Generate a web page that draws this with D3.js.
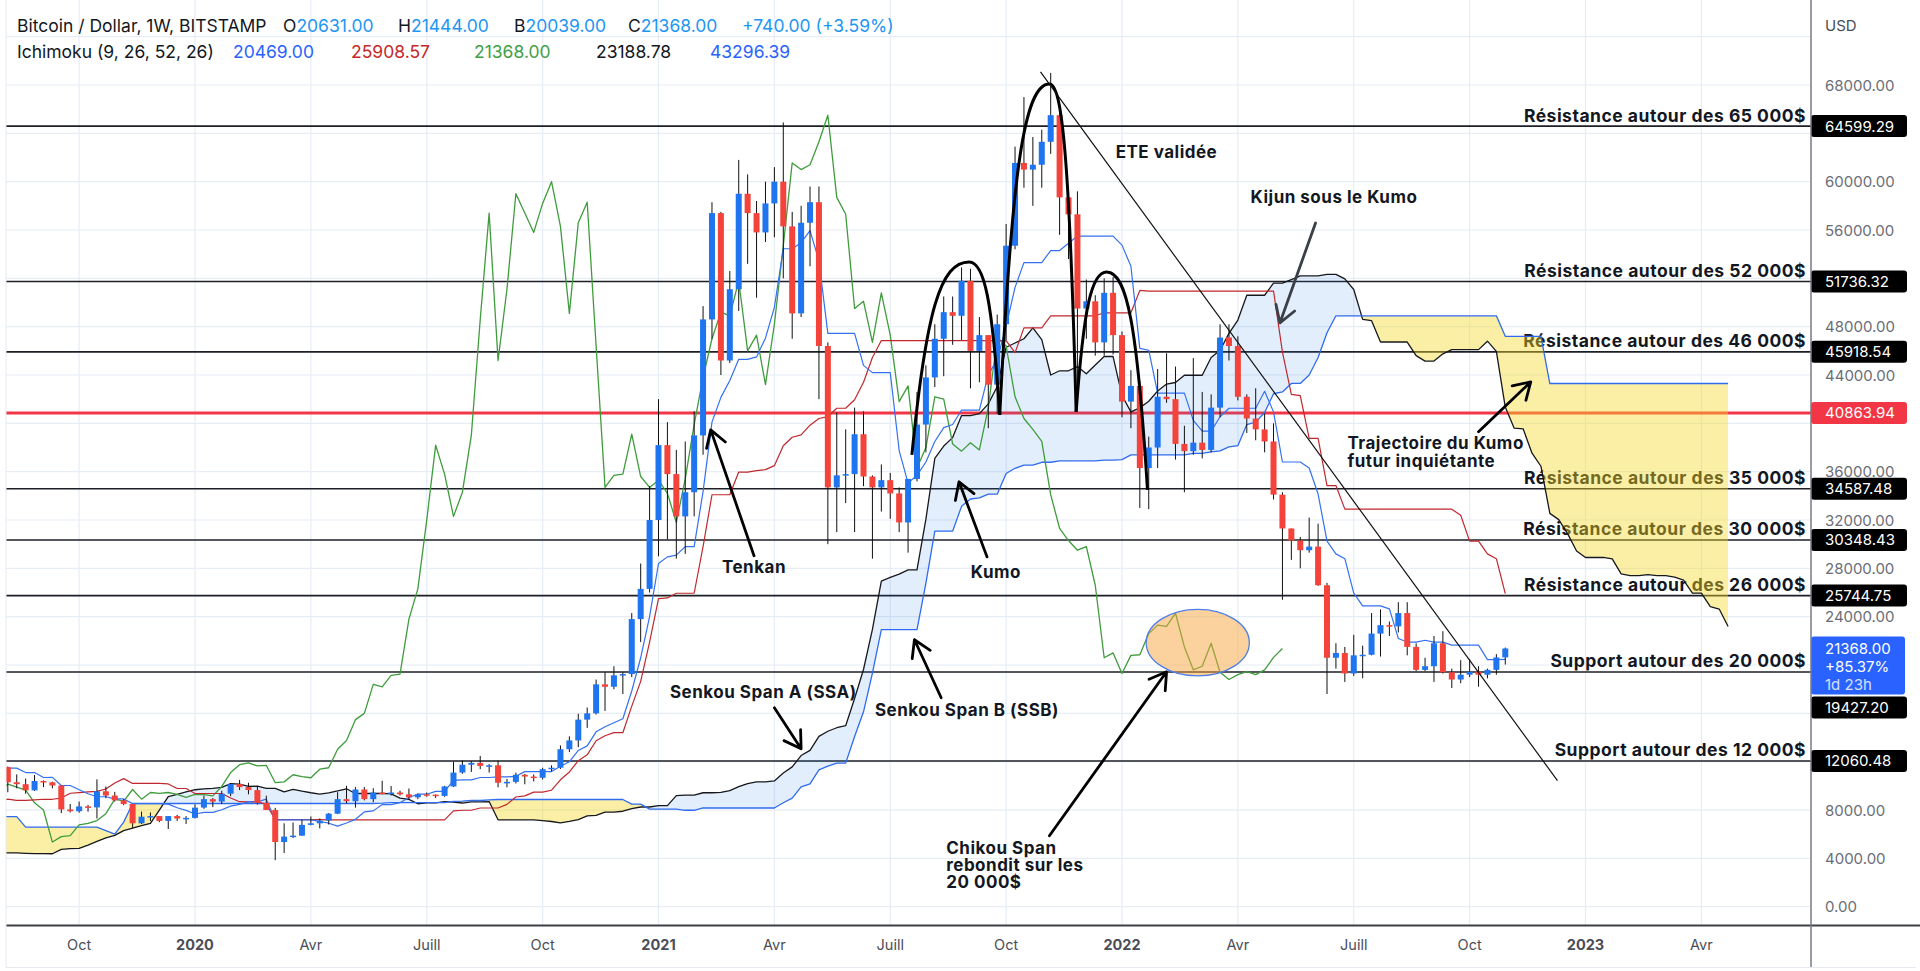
<!DOCTYPE html>
<html>
<head>
<meta charset="utf-8">
<script src="https://cdn.jsdelivr.net/npm/d3@7"></script>
<style>
  body { margin: 0; background: #fff; }
  svg { display: block; }
  text { font-family: Inter, "Noto Sans", sans-serif; }
</style>
</head>
<body>
<svg id="chart" width="1920" height="971"></svg>
<script>
'use strict';

// weekly bars, BTC/USD Bitstamp, first bar = week of 2019-08-05
var firstWeek = '2019-08-05';

var opens = [
  10800, 11550, 10300, 10140, 9630, 10400, 10300, 10030, 8050, 7900,
  8300, 8220, 9550, 9200, 8800, 8500, 6900, 7450, 7500, 7100,
  7500, 7300, 7350, 8200, 8900, 8700, 9350, 10150, 9900, 9650,
  8600, 8000, 5350, 5800, 5880, 6770, 6900, 7130, 7700, 8900,
  8730, 9700, 8900, 9450, 9380, 9450, 9300, 9050, 9300, 9270,
  9170, 9950, 11100, 11750, 11900, 11650, 11700, 10260, 10330, 10920,
  10770, 10670, 11380, 11500, 13030, 13760, 15480, 16000, 18400, 18200,
  19150, 19250, 23800, 26300, 32000, 38200, 35800, 32300, 34300, 39000,
  48600, 57400, 45200, 51100, 59000, 57400, 55800, 58200, 60000, 56300,
  49100, 56600, 58300, 46400, 34700, 35700, 35800, 39100, 35600, 34700,
  35300, 34200, 31800, 35400, 39900, 43800, 47000, 49200, 48900, 51800,
  46000, 47300, 43200, 48200, 54700, 61550, 61000, 61400, 63300, 65500,
  58700, 57300, 49500, 50100, 46700, 50800, 47300, 41800, 43100, 36300,
  38000, 42200, 42000, 38300, 37700, 38400, 37800, 41300, 47100, 46400,
  42200, 40400, 39500, 38500, 34100, 31300, 30300, 29500, 29800, 26600,
  20600, 21000, 19300, 20800, 20850, 22600, 23300, 23200, 24300, 21500,
  19600, 19900, 21800, 19400, 18800, 19200, 19450, 19200, 19600, 20631
];
var highs = [
  12300, 11600, 10950, 10600, 10900, 10450, 10350, 10050, 8500, 8700,
  8420, 10540, 9950, 9500, 8900, 8500, 7870, 7800, 7500, 7500,
  7600, 7500, 8470, 9190, 8990, 9600, 10200, 10500, 10250, 9970,
  9190, 8180, 6900, 6970, 7200, 7470, 7300, 7750, 9480, 10000,
  9900, 9900, 9800, 10420, 9990, 9600, 9780, 9370, 9450, 9300,
  10000, 12000, 12100, 12050, 12480, 11800, 12090, 10580, 11100, 10990,
  10950, 11500, 11700, 13350, 14100, 15970, 16480, 18800, 19400, 19900,
  19400, 24300, 28400, 34800, 42000, 40100, 37800, 38500, 41000, 49700,
  58300, 57500, 52600, 61800, 60600, 58400, 60000, 61200, 64900, 57500,
  58000, 59600, 59600, 46700, 40900, 39500, 41300, 41000, 35700, 36600,
  35900, 34700, 35400, 42600, 44800, 48200, 50500, 50500, 52900, 52800,
  48800, 47300, 49000, 56500, 62900, 67000, 63700, 64300, 69000, 66400,
  59400, 59200, 51900, 50600, 52000, 52100, 47600, 44400, 43500, 38900,
  44500, 45800, 44700, 39800, 45400, 42600, 42400, 48200, 48200, 47200,
  42400, 42900, 40800, 40000, 34300, 31300, 30600, 32200, 31700, 26800,
  21800, 21500, 22500, 21600, 24300, 24600, 23600, 25200, 25200, 21800,
  20600, 22400, 22800, 19700, 20400, 20500, 19900, 19700, 20900, 21444
];
var lows = [
  10990, 9470, 9800, 9350, 9580, 9900, 9800, 7750, 7800, 7780,
  7870, 7300, 8980, 8700, 8400, 6520, 6850, 7090, 7000, 6430,
  7100, 6850, 7300, 8100, 8240, 8500, 9150, 9650, 9300, 8450,
  8000, 3850, 4450, 5680, 5860, 6740, 6480, 6800, 7660, 8550,
  8200, 8800, 8650, 9300, 9200, 9200, 8900, 8900, 9100, 9000,
  9100, 9900, 11000, 11150, 11380, 11100, 9880, 9880, 10200, 10130,
  10370, 10530, 11200, 11400, 12800, 13200, 14800, 15900, 16200, 18000,
  17600, 19000, 21900, 26000, 29000, 30400, 28800, 29200, 32300, 37400,
  47000, 44000, 45000, 49300, 53200, 50400, 55000, 55400, 52000, 47000,
  48800, 53000, 42000, 30000, 31000, 33400, 31000, 34800, 28800, 32700,
  32100, 31000, 29300, 35200, 37600, 43000, 43900, 46500, 46900, 42900,
  43400, 39600, 40800, 46900, 54400, 59500, 58000, 59500, 62300, 55600,
  53600, 42000, 47000, 45600, 45600, 45700, 40500, 39600, 33000, 32900,
  36300, 41700, 37000, 34300, 37400, 37100, 37600, 40500, 45200, 41900,
  39200, 38600, 37600, 33700, 25400, 28700, 28000, 29300, 26550, 17600,
  19700, 18600, 19100, 18900, 20800, 20700, 22400, 22700, 20800, 19500,
  19500, 18600, 19300, 18100, 18500, 19000, 18200, 18900, 19200, 20039
];
var closes = [
  11550, 10300, 10140, 9630, 10400, 10300, 10030, 8050, 7900, 8300,
  8220, 9550, 9200, 8800, 8500, 6900, 7450, 7500, 7100, 7500,
  7300, 7350, 8200, 8900, 8700, 9350, 10150, 9900, 9650, 8600,
  8000, 5350, 5800, 5880, 6770, 6900, 7130, 7700, 8900, 8730,
  9700, 8900, 9450, 9380, 9450, 9300, 9050, 9300, 9270, 9170,
  9950, 11100, 11750, 11900, 11650, 11700, 10260, 10330, 10920, 10770,
  10670, 11380, 11500, 13030, 13760, 15480, 16000, 18400, 18200, 19150,
  19250, 23800, 26300, 32000, 38200, 35800, 32300, 34300, 39000, 48600,
  57400, 45200, 51100, 59000, 57400, 55800, 58200, 60000, 56300, 49100,
  56600, 58300, 46400, 34700, 35700, 35800, 39100, 35600, 34700, 35300,
  34200, 31800, 35400, 39900, 43800, 47000, 49200, 48900, 51800, 46000,
  47300, 43200, 48200, 54700, 61550, 61000, 61400, 63300, 65500, 58700,
  57300, 49500, 50100, 46700, 50800, 47300, 41800, 43100, 36300, 38000,
  42200, 42000, 38300, 37700, 38400, 37800, 41300, 47100, 46400, 42200,
  40400, 39500, 38500, 34100, 31300, 30300, 29500, 29800, 26600, 20600,
  21000, 19300, 20800, 20850, 22600, 23300, 23200, 24300, 21500, 19600,
  19900, 21800, 19400, 18800, 19200, 19450, 19200, 19600, 20631, 21368
];

// Ichimoku (9, 26, 52, 26), one per weekly bar
var tenkan = [
  11000, 11470, 11470, 11100, 11100, 10690, 10700, 10030, 10030, 9680,
  9350, 9100, 9100, 8920, 8920, 8530, 8530, 8530, 8530, 8490,
  8190, 7970, 7670, 7810, 7810, 8020, 8320, 8470, 8680, 8680,
  8900, 7180, 7180, 7180, 7180, 7180, 7050, 6910, 6670, 6930,
  7230, 7840, 7930, 8450, 8450, 8610, 9040, 9310, 9310, 9540,
  9540, 10450, 10500, 10500, 10690, 10690, 10740, 10740, 10790, 11180,
  11180, 11180, 11180, 11620, 11990, 12930, 13310, 14470, 14890, 15220,
  15550, 17850, 20600, 24000, 28400, 28950, 29100, 29800, 29800, 34350,
  40100, 42150, 43550, 45300, 45300, 45500, 47050, 49600, 54450, 54450,
  54950, 55950, 53450, 47450, 47450, 47450, 47450, 44800, 44200, 44200,
  44200, 37750, 35050, 35700, 36800, 38500, 39650, 39900, 41100, 41100,
  41100, 44050, 45250, 48050, 51250, 53300, 53300, 53300, 54300, 54300,
  54900, 55500, 55500, 55500, 55500, 55500, 54750, 53000, 46200, 46050,
  42500, 42500, 42500, 42500, 40250, 39350, 39350, 40550, 41250, 41250,
  41250, 41250, 42650, 40950, 36800, 36800, 36800, 36300, 34150, 30250,
  29200, 28800, 25950, 24900, 24900, 24900, 24650, 22200, 21900, 21900,
  22050, 21900, 21900, 21650, 21650, 21650, 21650, 20450, 20450, 20469
];
var kijun = [
  8740, 8900, 8800, 8800, 8840, 8890, 8890, 8990, 9390, 9440,
  9500, 9540, 9740, 10240, 10600, 10200, 10200, 10200, 10200, 10160,
  9780, 9780, 9370, 9370, 9370, 9370, 9000, 8690, 8670, 8670,
  8490, 7200, 7200, 7200, 7200, 7200, 7200, 7180, 7180, 7180,
  7180, 7180, 7180, 7180, 7180, 7180, 7180, 7180, 7180, 7180,
  7180, 7930, 7980, 7980, 8170, 8170, 8170, 8470, 9080, 9170,
  9480, 9480, 9640, 10500, 11150, 12080, 12570, 13730, 14150, 14400,
  14400, 16600, 18650, 21900, 25500, 25550, 25940, 25940, 25940, 29790,
  34090, 34090, 34090, 35970, 35970, 36090, 36170, 36500, 38150, 38850,
  39050, 39850, 40400, 40550, 41250, 41250, 41950, 43400, 45450, 46850,
  46850, 46850, 46850, 46850, 46850, 46850, 46850, 46850, 46850, 46850,
  46850, 46850, 46850, 46850, 45850, 47900, 47900, 47900, 48900, 48900,
  48900, 48900, 48900, 48900, 49150, 49150, 49150, 49150, 51000, 50950,
  50950, 50950, 50950, 50950, 50950, 50950, 50950, 50950, 50950, 50950,
  50950, 50950, 50950, 50950, 45900, 42400, 42300, 38750, 38750, 34850,
  34850, 32900, 32900, 32900, 32900, 32900, 32900, 32900, 32900, 32900,
  32900, 32900, 32900, 32900, 32400, 30250, 30250, 29200, 28800, 25909
];
// leading spans, already displaced: index 0 = first bar, last index = 25 weeks after the last bar
var senkouA = [
  4500, 4450, 4450, 4420, 4400, 4400, 4380, 4750, 4800, 4820,
  5100, 5400, 5700, 5900, 6300, 6500, 6700, 6900, 8000, 9100,
  9300, 9500, 9680, 9750, 9800,
  9870, 10190, 10140, 9950, 9970, 9790, 9800, 9510, 9710, 9560,
  9430, 9320, 9420, 9580, 9760, 9370, 9370, 9370, 9370, 9330,
  8990, 8880, 8520, 8590, 8590, 8700, 8660, 8580, 8680, 8680,
  8700, 7190, 7190, 7190, 7190, 7190, 7130, 7050, 6930, 7060,
  7210, 7510, 7560, 7820, 7820, 7900, 8110, 8250, 8250, 8360,
  8360, 9190, 9240, 9240, 9430, 9430, 9460, 9610, 9940, 10180,
  10330, 10330, 10410, 11060, 11570, 12510, 12940, 14100, 14520, 14810,
  14980, 17230, 19630, 22950, 26950, 27250, 27520, 27870, 27870, 32070,
  37100, 38120, 38820, 40640, 40640, 40800, 41610, 43050, 46300, 46650,
  47000, 47900, 46930, 44000, 44350, 44350, 44700, 44100, 44830, 45530,
  45530, 42300, 40950, 41280, 41830, 42680, 43250, 43380, 43980, 43980,
  43980, 45450, 46050, 47450, 48550, 50600, 50600, 50600, 51600, 51600,
  51900, 52200, 52200, 52200, 52330, 52330, 51950, 51080, 48600, 48500,
  46730, 46730, 46730, 46730, 45600, 45150, 45150, 45750, 46100, 46100,
  46100, 46100, 46800, 45950, 41350, 39600, 39550, 37530, 36450, 32550,
  32030, 30850, 29430, 28900, 28900, 28900, 28780, 27550, 27400, 27400,
  27480, 27400, 27400, 27280, 27030, 25950, 25950, 24830, 24630, 23189
];
var senkouB = [
  7450, 7450, 7450, 6580, 6580, 6580, 6580, 6580, 6580, 6580,
  6580, 6580, 6300, 6000, 7000, 8540, 8540, 8540, 8540, 8540,
  8540, 8540, 8540, 8540, 8540, 8540, 8540, 8540, 8540, 8540,
  8540, 8540, 8540, 8540, 8540, 8540, 8540, 8540, 8540, 8540,
  8540, 8540, 8540, 8570, 8620, 8620, 8620, 8620, 8620, 8620,
  8620, 8720, 8740, 8790, 8790, 8840, 8870, 8870, 8870, 8870,
  8870, 8870, 8870, 8870, 8870, 8870, 8870, 8870, 8870, 8870,
  8870, 8490, 8490, 8080, 8080, 8080, 8080, 7980, 7980, 8170,
  8170, 8170, 8170, 8170, 8170, 8170, 8170, 8170, 8600, 8980,
  9910, 10170, 11330, 11630, 11880, 11880, 14080, 16130, 19330, 22930,
  22930, 22930, 22930, 22930, 26780, 31080, 31080, 31080, 33130, 33740,
  33830, 34140, 34140, 35850, 36280, 36550, 36550, 36780, 36780, 36900,
  36900, 36900, 36900, 36900, 36950, 36950, 37000, 37390, 37390, 37390,
  37390, 37390, 37390, 37390, 37520, 37520, 37640, 37720, 38050, 38150,
  39900, 40100, 40900, 42450, 42600, 43300, 43300, 44000, 45450, 47500,
  48900, 48900, 48900, 48900, 48900, 48900, 48900, 48900, 48900, 48900,
  48900, 48900, 48900, 48900, 48900, 48900, 48900, 48900, 48900, 47200,
  47200, 47200, 47200, 47200, 43296, 43296, 43296, 43296, 43296, 43296,
  43296, 43296, 43296, 43296, 43296, 43296, 43296, 43296, 43296, 43296,
  43296, 43296, 43296, 43296, 43296
];
var chikouShift = 25;

// axes
var priceTicks = [0, 4000, 8000, 12000, 16000, 20000, 24000, 28000, 32000, 36000,
  40000, 44000, 48000, 52000, 56000, 60000, 64000, 68000];
var timeTickDates = ['2019-10-07', '2020-01-06', '2020-04-06', '2020-07-06', '2020-10-05',
  '2021-01-04', '2021-04-05', '2021-07-05', '2021-10-04', '2022-01-03', '2022-04-04',
  '2022-07-04', '2022-10-03', '2023-01-02', '2023-04-03'];
var timeTickLabels = ['Oct', '2020', 'Avr', 'Juill', 'Oct', '2021', 'Avr', 'Juill', 'Oct',
  '2022', 'Avr', 'Juill', 'Oct', '2023', 'Avr'];

// horizontal levels drawn on the chart
var levelPrices = [64599.29, 51736.32, 45918.54, 34587.48, 30348.43, 25744.75, 19427.20, 12060.48];
var levelNotes = ['Résistance autour des 65 000$', 'Résistance autour des 52 000$',
  'Résistance autour des 46 000$', 'Résistance autour des 35 000$', 'Résistance autour des 30 000$',
  'Résistance autour des 26 000$', 'Support autour des 20 000$', 'Support autour des 12 000$'];
var redLevel = 40863.94;
var lastPrice = 21368.00;
var lastInfo = ['21368.00', '+85.37%', '1d 23h'];

// drawings
var notes = [
  { text: 'ETE validée', date: '2021-12-29', price: 62460, anchor: 'start' },
  { text: 'Kijun sous le Kumo', date: '2022-04-14', price: 58740, anchor: 'start' },
  { text: 'Trajectoire du Kumo', date: '2022-06-29', price: 38385, anchor: 'start' },
  { text: 'futur inquiétante', date: '2022-06-29', price: 36900, anchor: 'start' },
  { text: 'Tenkan', date: '2021-03-20', price: 28130, anchor: 'middle' },
  { text: 'Kumo', date: '2021-09-26', price: 27710, anchor: 'middle' },
  { text: 'Senkou Span A (SSA)', date: '2021-01-13', price: 17790, anchor: 'start' },
  { text: 'Senkou Span B (SSB)', date: '2021-06-23', price: 16300, anchor: 'start' },
  { text: 'Chikou Span', date: '2021-08-18', price: 4880, anchor: 'start' },
  { text: 'rebondit sur les', date: '2021-08-18', price: 3470, anchor: 'start' },
  { text: '20 000$', date: '2021-08-18', price: 2070, anchor: 'start' }
];
var arrows = [
  ['2021-03-20', 29040, '2021-02-14', 39460, '#000'],
  ['2021-09-19', 28950, '2021-08-28', 35160, '#000'],
  ['2021-08-14', 17290, '2021-07-24', 22090, '#000'],
  ['2021-04-05', 16460, '2021-04-26', 13070, '#000'],
  ['2021-11-07', 5870, '2022-02-07', 19440, '#000'],
  ['2022-06-04', 56580, '2022-05-07', 48310, '#3b3f48'],
  ['2022-10-10', 39300, '2022-11-20', 43430, '#000']
];
var humps = [
  [['2021-07-22', 37390], ['2021-09-05', 53360], ['2021-09-29', 40700]],
  [['2021-09-29', 40700], ['2021-11-07', 68080], ['2021-11-28', 40950]],
  [['2021-11-28', 40950], ['2021-12-22', 52530], ['2022-01-23', 34500]]
];
var trendLine = [['2021-10-31', 69080], ['2022-12-11', 10430]];
var circle = { from: '2022-01-22', to: '2022-04-13', low: 19100, high: 24600 };

var upColor = '#1f74f0', downColor = '#f4433a';

var svg = d3.select('#chart');
var parse = d3.utcParse('%Y-%m-%d');
var week0 = parse(firstWeek);
var weekDate = function (i) { return d3.utcWeek.offset(week0, i); };

var plotLeft = 6, plotRight = 1811, plotTop = 0, plotBottom = 925;

var x = d3.scaleUtc()
  .domain([parse('2020-01-06'), parse('2022-01-03')])
  .range([195, 1122]);
var y = d3.scaleLinear().domain([0, 68000]).range([906.7, 85]);

svg.append('rect').attr('width', 1920).attr('height', 971).attr('fill', '#fff');

var defs = svg.append('defs');
defs.append('clipPath').attr('id', 'plot').append('rect')
  .attr('x', plotLeft).attr('y', plotTop).attr('width', plotRight - plotLeft).attr('height', plotBottom - plotTop);

var plot = svg.append('g').attr('clip-path', 'url(#plot)');

// grid
plot.append('g').selectAll('line').data(timeTickDates).enter().append('line')
  .attr('x1', function (d) { return x(parse(d)); }).attr('x2', function (d) { return x(parse(d)); })
  .attr('y1', plotTop).attr('y2', plotBottom).attr('stroke', '#e6edf6').attr('stroke-width', 1.2);
plot.append('g').selectAll('line').data(priceTicks.concat([72000])).enter().append('line')
  .attr('x1', plotLeft).attr('x2', plotRight)
  .attr('y1', function (d) { return y(d); }).attr('y2', function (d) { return y(d); })
  .attr('stroke', '#e6edf6').attr('stroke-width', 1.2);

// level lines and their notes
plot.append('g').selectAll('line').data(levelPrices).enter().append('line')
  .attr('x1', plotLeft).attr('x2', plotRight)
  .attr('y1', function (d) { return y(d); }).attr('y2', function (d) { return y(d); })
  .attr('stroke', '#1c1f26').attr('stroke-width', 1.6);
plot.append('line').attr('x1', plotLeft).attr('x2', plotRight)
  .attr('y1', y(redLevel)).attr('y2', y(redLevel))
  .attr('stroke', '#f23645').attr('stroke-width', 3);
plot.append('g').selectAll('text').data(levelPrices).enter().append('text')
  .attr('x', plotRight - 5).attr('y', function (d) { return y(d) - 4.5; })
  .attr('text-anchor', 'end').attr('font-size', 17.5).attr('font-weight', 700)
  .attr('letter-spacing', 0.5).attr('fill', '#131722')
  .text(function (d, i) { return levelNotes[i]; });

// kumo
var cloud = senkouA.map(function (a, p) {
  return { x: x(weekDate(p)), a: y(a), b: y(senkouB[p]) };
});
defs.append('clipPath').attr('id', 'aboveB').append('path')
  .attr('d', d3.area().x(function (d) { return d.x; }).y0(plotTop - 5).y1(function (d) { return d.b; })(cloud));
defs.append('clipPath').attr('id', 'belowB').append('path')
  .attr('d', d3.area().x(function (d) { return d.x; }).y0(plotBottom + 5).y1(function (d) { return d.b; })(cloud));
var between = d3.area().x(function (d) { return d.x; }).y0(function (d) { return d.b; }).y1(function (d) { return d.a; });
plot.append('g').attr('clip-path', 'url(#aboveB)').append('path')
  .attr('d', between(cloud)).attr('fill', 'rgba(40,120,235,0.13)');
plot.append('g').attr('clip-path', 'url(#belowB)').append('path')
  .attr('d', between(cloud)).attr('fill', 'rgba(246,218,40,0.42)');

var seriesLine = function (values, color, width) {
  var line = d3.line()
    .x(function (d, i) { return x(weekDate(i)); })
    .y(function (d) { return y(d); });
  plot.append('path').attr('d', line(values)).attr('fill', 'none')
    .attr('stroke', color).attr('stroke-width', width).attr('stroke-linejoin', 'round');
};
seriesLine(senkouA, '#16181d', 1.3);
seriesLine(senkouB, '#2f6bf0', 1.3);
seriesLine(closes.slice(chikouShift), '#3f9c3c', 1.3);
seriesLine(kijun, '#c0282d', 1.2);
seriesLine(tenkan, '#3470f2', 1.2);

// candles
var candles = plot.append('g').selectAll('g').data(closes).enter().append('g')
  .attr('transform', function (d, i) { return 'translate(' + x(weekDate(i)) + ',0)'; });
candles.append('line')
  .attr('y1', function (d, i) { return y(highs[i]); })
  .attr('y2', function (d, i) { return y(lows[i]); })
  .attr('stroke', '#111').attr('stroke-width', 1);
candles.append('rect')
  .attr('x', -3).attr('width', 6)
  .attr('y', function (d, i) { return y(Math.max(opens[i], d)); })
  .attr('height', function (d, i) { return Math.max(1.5, Math.abs(y(opens[i]) - y(d))); })
  .attr('fill', function (d, i) { return d >= opens[i] ? upColor : downColor; });

// drawings
var px = function (pt) { return [x(parse(pt[0])), y(pt[1])]; };

plot.append('ellipse')
  .attr('cx', (x(parse(circle.from)) + x(parse(circle.to))) / 2)
  .attr('cy', (y(circle.low) + y(circle.high)) / 2)
  .attr('rx', (x(parse(circle.to)) - x(parse(circle.from))) / 2)
  .attr('ry', (y(circle.low) - y(circle.high)) / 2)
  .attr('fill', 'rgba(247,165,60,0.5)').attr('stroke', '#4f7fe6').attr('stroke-width', 1.3);

humps.forEach(function (h) {
  var s = px(h[0]), p = px(h[1]), e = px(h[2]);
  var d = 'M' + s[0] + ',' + s[1] +
    'C' + (s[0] + 0.25 * (p[0] - s[0])) + ',' + (s[1] - 0.75 * (s[1] - p[1])) + ' ' +
    (p[0] - 0.5 * (p[0] - s[0])) + ',' + p[1] + ' ' + p[0] + ',' + p[1] +
    'C' + (p[0] + 0.5 * (e[0] - p[0])) + ',' + p[1] + ' ' +
    (e[0] - 0.25 * (e[0] - p[0])) + ',' + (e[1] - 0.75 * (e[1] - p[1])) + ' ' + e[0] + ',' + e[1];
  plot.append('path').attr('d', d).attr('fill', 'none').attr('stroke', '#000').attr('stroke-width', 3);
});

var t0 = px(trendLine[0]), t1 = px(trendLine[1]);
plot.append('line').attr('x1', t0[0]).attr('y1', t0[1]).attr('x2', t1[0]).attr('y2', t1[1])
  .attr('stroke', '#111').attr('stroke-width', 1.2);

arrows.forEach(function (a) {
  var p0 = px([a[0], a[1]]), p1 = px([a[2], a[3]]);
  var ang = Math.atan2(p1[1] - p0[1], p1[0] - p0[0]), len = 19, spread = 0.55;
  var d = 'M' + p0[0] + ',' + p0[1] + 'L' + p1[0] + ',' + p1[1] +
    'M' + (p1[0] - len * Math.cos(ang - spread)) + ',' + (p1[1] - len * Math.sin(ang - spread)) +
    'L' + p1[0] + ',' + p1[1] +
    'L' + (p1[0] - len * Math.cos(ang + spread)) + ',' + (p1[1] - len * Math.sin(ang + spread));
  plot.append('path').attr('d', d).attr('fill', 'none').attr('stroke', a[4])
    .attr('stroke-width', 2.8).attr('stroke-linecap', 'round').attr('stroke-linejoin', 'round');
});

plot.append('g').selectAll('text').data(notes).enter().append('text')
  .attr('x', function (d) { return x(parse(d.date)); })
  .attr('y', function (d) { return y(d.price); })
  .attr('dominant-baseline', 'central')
  .attr('text-anchor', function (d) { return d.anchor; })
  .attr('font-size', 17).attr('font-weight', 700).attr('letter-spacing', 0.5).attr('fill', '#131722')
  .text(function (d) { return d.text; });

// price axis
var lastY = y(lastPrice);
var lastTop = lastY - 12, lastBottom = lastY + 46;
var boxY = levelPrices.map(function (p) {
  var cy = y(p);
  if (cy + 11 > lastTop && cy - 11 < lastBottom) cy = lastBottom + 2 + 11;
  return cy;
});
var boxCenters = boxY.concat([y(redLevel)]);
var visibleTicks = priceTicks.filter(function (t) {
  var ty = y(t);
  if (ty > lastTop - 8 && ty < lastBottom + 8) return false;
  return boxCenters.every(function (c) { return Math.abs(c - ty) >= 14; });
});

var axisG = svg.append('g');
axisG.append('rect').attr('x', plotRight).attr('y', 0).attr('width', 1920 - plotRight).attr('height', 971).attr('fill', '#fff');
axisG.append('g').selectAll('text').data(visibleTicks).enter().append('text')
  .attr('x', plotRight + 14).attr('y', function (d) { return y(d); })
  .attr('dominant-baseline', 'central').attr('font-size', 15).attr('fill', '#6a6d78')
  .text(function (d) { return d3.format('.2f')(d); });
axisG.append('text').attr('x', plotRight + 14).attr('y', 25).attr('dominant-baseline', 'central')
  .attr('font-size', 15).attr('fill', '#4a4d57').text('USD');

var boxes = axisG.append('g').selectAll('g').data(levelPrices).enter().append('g');
boxes.append('rect').attr('x', plotRight).attr('y', function (d, i) { return boxY[i] - 11; })
  .attr('width', 96).attr('height', 22).attr('rx', 3).attr('fill', '#000');
boxes.append('text').attr('x', plotRight + 14).attr('y', function (d, i) { return boxY[i]; })
  .attr('dominant-baseline', 'central').attr('font-size', 15).attr('fill', '#fff')
  .text(function (d) { return d3.format('.2f')(d); });
axisG.append('rect').attr('x', plotRight).attr('y', y(redLevel) - 11).attr('width', 96).attr('height', 22)
  .attr('rx', 3).attr('fill', '#f23645');
axisG.append('text').attr('x', plotRight + 14).attr('y', y(redLevel)).attr('dominant-baseline', 'central')
  .attr('font-size', 15).attr('fill', '#fff').text(d3.format('.2f')(redLevel));
axisG.append('rect').attr('x', plotRight).attr('y', lastTop).attr('width', 94).attr('height', lastBottom - lastTop)
  .attr('rx', 3).attr('fill', '#2962ff');
axisG.append('g').selectAll('text').data(lastInfo).enter().append('text')
  .attr('x', plotRight + 14).attr('y', function (d, i) { return lastY + i * 18; })
  .attr('dominant-baseline', 'central').attr('font-size', 15)
  .attr('fill', function (d, i) { return i === 2 ? '#d6e0ff' : '#fff'; })
  .text(function (d) { return d; });

// time axis
svg.append('rect').attr('x', plotLeft).attr('y', plotBottom).attr('width', plotRight - plotLeft).attr('height', 42).attr('fill', '#fff');
svg.append('g').selectAll('text').data(timeTickDates).enter().append('text')
  .attr('x', function (d) { return x(parse(d)); }).attr('y', 944)
  .attr('text-anchor', 'middle').attr('dominant-baseline', 'central').attr('font-size', 14.5)
  .attr('font-weight', function (d, i) { return /^\d/.test(timeTickLabels[i]) ? 700 : 400; })
  .attr('fill', '#4a4d57')
  .text(function (d, i) { return timeTickLabels[i]; });
svg.append('line').attr('x1', plotLeft).attr('x2', 1920).attr('y1', plotBottom + 0.5).attr('y2', plotBottom + 0.5)
  .attr('stroke', '#3c3f47').attr('stroke-width', 2);
svg.append('line').attr('x1', plotRight).attr('x2', plotRight).attr('y1', 0).attr('y2', 968)
  .attr('stroke', '#787b86').attr('stroke-width', 1.5);
svg.append('line').attr('x1', plotLeft).attr('x2', plotLeft).attr('y1', 0).attr('y2', 968)
  .attr('stroke', '#e6eaf0').attr('stroke-width', 1);
svg.append('line').attr('x1', plotLeft).attr('x2', 1916).attr('y1', 967.5).attr('y2', 967.5)
  .attr('stroke', '#e6eaf0').attr('stroke-width', 1);

// legend
var legend = svg.append('g').attr('font-size', 17.5).attr('fill', '#131722');
var row1 = legend.append('text').attr('x', 17).attr('y', 25).attr('dominant-baseline', 'central');
row1.append('tspan').text('Bitcoin / Dollar, 1W, BITSTAMP');
[['O', '20631.00', 283], ['H', '21444.00', 398], ['B', '20039.00', 514], ['C', '21368.00', 628]]
  .forEach(function (v) {
    row1.append('tspan').attr('x', v[2]).text(v[0]);
    row1.append('tspan').attr('fill', '#2196f3').text(v[1]);
  });
row1.append('tspan').attr('x', 742).attr('fill', '#2196f3').text('+740.00 (+3.59%)');
var row2 = legend.append('text').attr('x', 17).attr('y', 51).attr('dominant-baseline', 'central');
row2.append('tspan').text('Ichimoku (9, 26, 52, 26)');
[['20469.00', '#2962ff', 233], ['25908.57', '#c62828', 351], ['21368.00', '#43a047', 474],
  ['23188.78', '#131722', 596], ['43296.39', '#2962ff', 710]].forEach(function (v) {
  row2.append('tspan').attr('x', v[2]).attr('fill', v[1]).text(v[0]);
});
</script>
</body>
</html>
